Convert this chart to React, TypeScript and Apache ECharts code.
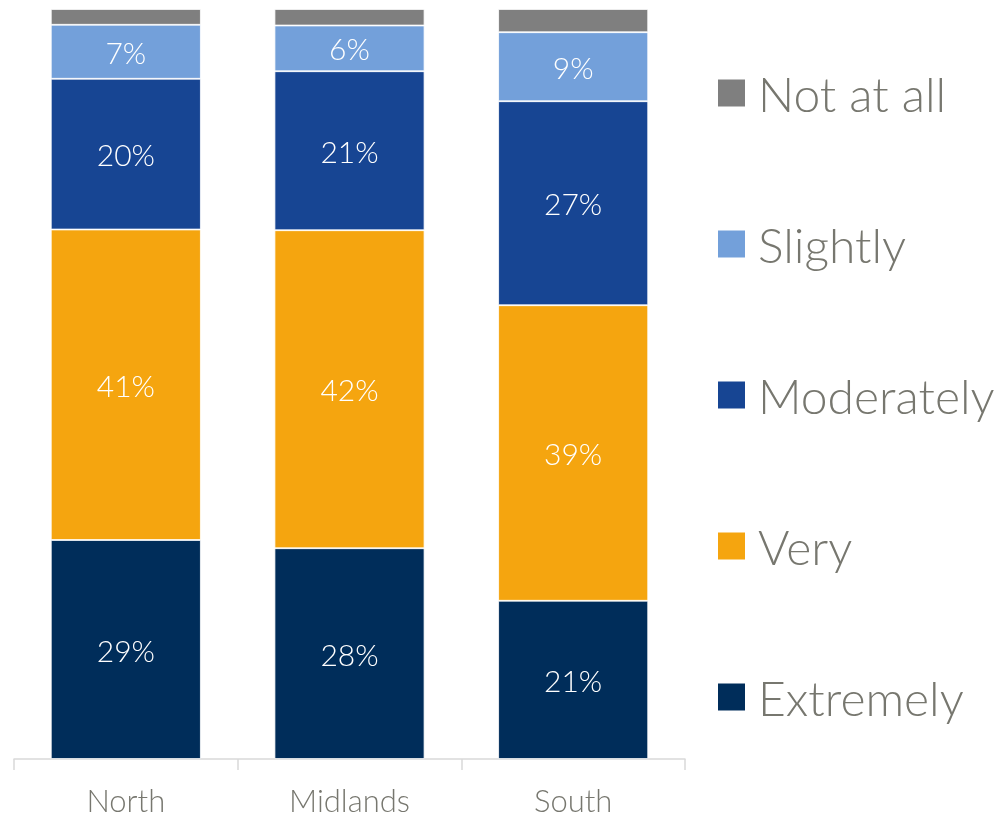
import React, { useEffect, useRef } from "react";
import * as echarts from "echarts";

const categories = ["North", "Midlands", "South"];
const seriesNames = ["Extremely", "Very", "Moderately", "Slightly", "Not at all"];
const extremely = [29.2, 28.1, 21.1];
const very = [41.4, 42.4, 39.4];
const moderately = [20.1, 21.2, 27.2];
const slightly = [7.2, 6.1, 9.2];
const notAtAll = [2.1, 2.2, 3.1];
const colors = ["#002D5A", "#F5A50F", "#174593", "#73A0DA", "#7F7F7F"];
const legendOrder = ["Not at all", "Slightly", "Moderately", "Very", "Extremely"];

const FONT = "Lato, 'Open Sans', sans-serif";

export default function App() {
  const ref = useRef<HTMLDivElement>(null);
  useEffect(() => {
    if (!ref.current) return;
    const chart = echarts.init(ref.current, null, { renderer: "svg" });
    const data = [extremely, very, moderately, slightly, notAtAll];
    chart.setOption({
      animation: false,
      textStyle: { fontFamily: FONT, fontWeight: 300 },
      grid: { left: 14, right: 320, top: 9, bottom: 59, containLabel: false },
      legend: {
        data: legendOrder,
        orient: "vertical",
        left: 716,
        top: 67,
        padding: 0,
        itemWidth: 29,
        itemHeight: 29,
        itemGap: 99,
        icon: "rect",
        textStyle: {
          fontFamily: FONT,
          fontWeight: 300,
          fontSize: 48,
          lineHeight: 52,
          color: "#77776F",
          padding: [0, 0, 0, 7],
        },
      },
      xAxis: {
        type: "category",
        data: categories,
        axisLine: { lineStyle: { color: "#D9D9D9", width: 1.5 } },
        axisTick: { show: true, length: 11, lineStyle: { color: "#D9D9D9", width: 1.5 } },
        axisLabel: {
          fontFamily: FONT,
          fontWeight: 300,
          fontSize: 31,
          lineHeight: 34,
          color: "#77776F",
          margin: 24,
        },
      },
      yAxis: { type: "value", min: 0, max: 100, show: false, splitLine: { show: false } },
      series: seriesNames.map((name, i) => ({
        name,
        type: "bar",
        stack: "total",
        barWidth: 150,
        data: data[i],
        itemStyle: { color: colors[i], borderColor: "#FFFFFF", borderWidth: 0.8 },
        label: {
          show: i < 4,
          position: "inside",
          color: "#FFFFFF",
          fontFamily: FONT,
          fontWeight: 300,
          fontSize: 30,
          formatter: (p: any) => Math.round(p.value) + "%",
        },
      })),
    });
    return () => chart.dispose();
  }, []);
  return (
    <div
      ref={ref}
      style={{ position: "fixed", left: 0, top: 0, width: 1005, height: 818 }}
    />
  );
}
